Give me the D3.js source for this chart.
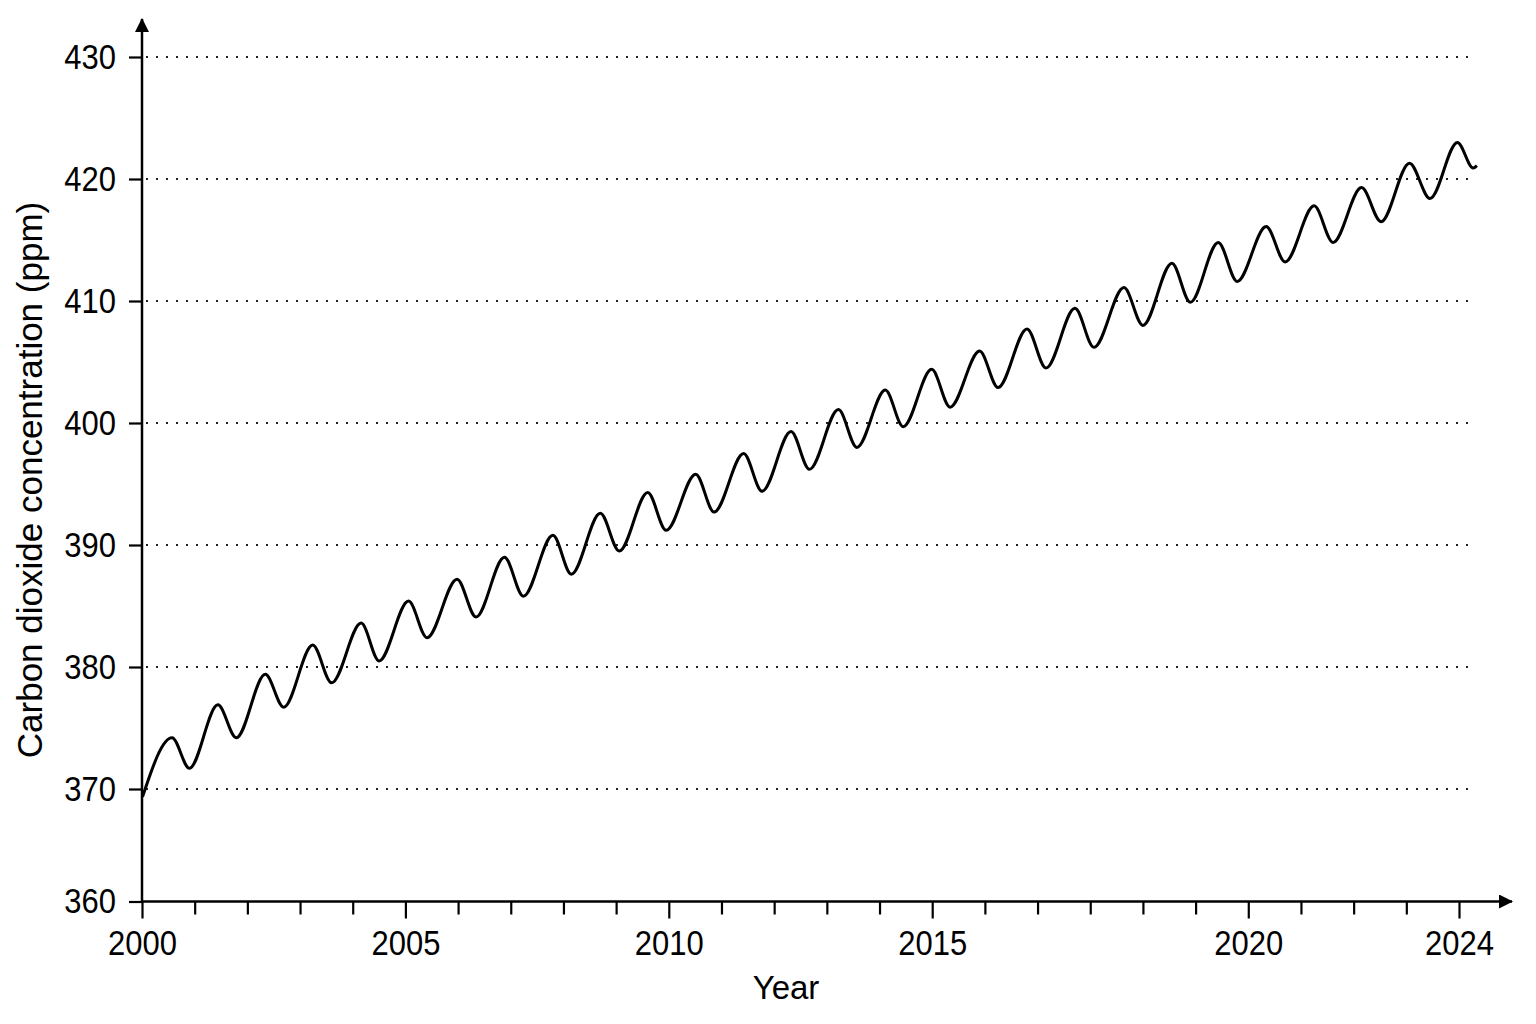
<!DOCTYPE html>
<html>
<head>
<meta charset="utf-8">
<script src="https://cdn.jsdelivr.net/npm/d3@7"></script>
<style>
    body { margin: 0; background: #fff; }
    svg { display: block; font-family: 'Liberation Sans', Arial, sans-serif; }
</style>
</head>
<body>
<svg width="1536" height="1024"></svg>
<script>
// CO2 chart, values

// x runs over the tick slots of the axis (one slot per small tick)
var tickLabels = [ '2000', '', '', '', '', '2005', '', '', '', '', '2010', '', '', '', '', '2015',
    '', '', '', '', '', '2020', '', '', '', '2024' ];
var yTicks = [ 360, 370, 380, 390, 400, 410, 420, 430 ];
var gridValues = [ 370, 380, 390, 400, 410, 420, 430 ];

// turning points of the seasonal wave (slot position, ppm)
var co2Time = [ 0.01, 0.57, 0.90, 1.44, 1.79, 2.34, 2.69, 3.24, 3.60, 4.16, 4.50, 5.06, 5.41,
    5.98, 6.34, 6.88, 7.24, 7.80, 8.15, 8.70, 9.06, 9.60, 9.95, 10.51, 10.86, 11.42, 11.77,
    12.32, 12.67, 13.22, 13.57, 14.11, 14.45, 14.99, 15.34, 15.90, 16.25, 16.80, 17.16, 17.71,
    18.07, 18.64, 19.00, 19.55, 19.90, 20.43, 20.79, 21.34, 21.70, 22.25, 22.61, 23.15, 23.52,
    24.06, 24.45, 24.97, 25.27, 25.34 ];
var co2Ppm = [ 369.3, 374.2, 371.7, 376.9, 374.2, 379.4, 376.7, 381.8, 378.7, 383.6, 380.5, 385.4,
    382.4, 387.2, 384.1, 389.0, 385.8, 390.8, 387.6, 392.6, 389.5, 394.3, 391.2, 395.8, 392.7,
    397.5, 394.4, 399.3, 396.2, 401.1, 398.0, 402.7, 399.7, 404.4, 401.3, 405.9, 402.9, 407.7,
    404.5, 409.4, 406.2, 411.1, 408.0, 413.1, 409.9, 414.8, 411.6, 416.1, 413.2, 417.8, 414.8,
    419.3, 416.5, 421.3, 418.4, 423.0, 420.9, 421.1 ];

var svg = d3.select( 'svg' );

var x = d3.scaleLinear()
    .domain( [ 0, 25 ] )
    .range( [ 142, 1459 ] );

// the first band (360-370) is drawn a little shorter than the others
var y = d3.scaleLinear()
    .domain( [ 360, 370, 430 ] )
    .range( [ 901.5, 789, 57 ] );

svg.append( 'rect' )
    .attr( 'width', 1536 )
    .attr( 'height', 1024 )
    .style( 'fill', '#fff' );

var defs = svg.append( 'defs' );
defs.append( 'marker' )
    .attr( 'id', 'arrow' )
    .attr( 'viewBox', '0 0 14 14' )
    .attr( 'refX', 13 )
    .attr( 'refY', 7 )
    .attr( 'markerWidth', 14 )
    .attr( 'markerHeight', 14 )
    .attr( 'markerUnits', 'userSpaceOnUse' )
    .attr( 'orient', 'auto' )
  .append( 'path' )
    .attr( 'd', 'M0,0 L14,7 L0,14 Z' )
    .style( 'fill', '#000' );

// dotted grid
svg.append( 'g' )
    .selectAll( 'line' )
    .data( gridValues )
    .enter()
  .append( 'line' )
    .attr( 'x1', x( 0 ) + 4 )
    .attr( 'x2', x( 25.3 ) )
    .attr( 'y1', function( d ) { return y( d ); } )
    .attr( 'y2', function( d ) { return y( d ); } )
    .style( 'stroke', '#222' )
    .style( 'stroke-width', 2 )
    .style( 'stroke-dasharray', '2 8' );

// y axis
var yAxis = svg.append( 'g' )
    .attr( 'transform', 'translate(' + x( 0 ) + ',0)' )
    .call( d3.axisLeft( y ).tickValues( yTicks ).tickSize( 13 ).tickPadding( 13 ) );

// x axis
var xAxis = svg.append( 'g' )
    .attr( 'transform', 'translate(0,' + y( 360 ) + ')' )
    .call( d3.axisBottom( x )
        .tickValues( d3.range( tickLabels.length ) )
        .tickSize( 13 )
        .tickPadding( 16 )
        .tickFormat( function( i ) { return tickLabels[ i ]; } ) );

[ yAxis, xAxis ].forEach( function( g ) {
    g.select( '.domain' ).remove();
    g.selectAll( '.tick line' )
        .style( 'stroke', '#000' )
        .style( 'stroke-width', 2.2 );
    g.selectAll( '.tick text' )
        .style( 'font-family', "'Liberation Sans', Arial, sans-serif" )
        .style( 'font-size', '35px' )
        .style( 'fill', '#000' )
        .each( narrow );
});

// the tick numbers in the picture are taller than they are wide
function narrow() {
    var w = this.getComputedTextLength();
    if ( w > 0 ) {
        d3.select( this )
            .attr( 'textLength', w * 0.885 )
            .attr( 'lengthAdjust', 'spacingAndGlyphs' );
    }
}

// labelled ticks are a bit longer
xAxis.selectAll( '.tick line' )
    .filter( function( i ) { return tickLabels[ i ] !== ''; } )
    .attr( 'y2', 17 );

// axis lines with arrow heads
svg.append( 'line' )
    .attr( 'x1', x( 0 ) )
    .attr( 'x2', x( 0 ) )
    .attr( 'y1', y( 360 ) + 1 )
    .attr( 'y2', 19 )
    .attr( 'marker-end', 'url(#arrow)' )
    .style( 'stroke', '#000' )
    .style( 'stroke-width', 2.5 );

svg.append( 'line' )
    .attr( 'x1', x( 0 ) - 1 )
    .attr( 'x2', 1512 )
    .attr( 'y1', y( 360 ) )
    .attr( 'y2', y( 360 ) )
    .attr( 'marker-end', 'url(#arrow)' )
    .style( 'stroke', '#000' )
    .style( 'stroke-width', 2.5 );

// the CO2 curve
var line = d3.line()
    .x( function( d, i ) { return x( co2Time[ i ] ); } )
    .y( function( d ) { return y( d ); } )
    .curve( d3.curveMonotoneX );

svg.append( 'path' )
    .datum( co2Ppm )
    .attr( 'd', line )
    .style( 'fill', 'none' )
    .style( 'stroke', '#000' )
    .style( 'stroke-width', 3 )
    .style( 'stroke-linejoin', 'round' );

// axis titles
svg.append( 'text' )
    .attr( 'x', 786 )
    .attr( 'y', 999 )
    .attr( 'text-anchor', 'middle' )
    .style( 'font-size', '33px' )
    .text( 'Year' );

svg.append( 'text' )
    .attr( 'transform', 'translate(42,480) rotate(-90)' )
    .attr( 'text-anchor', 'middle' )
    .style( 'font-size', '35px' )
    .text( 'Carbon dioxide concentration (ppm)' );
</script>
</body>
</html>
